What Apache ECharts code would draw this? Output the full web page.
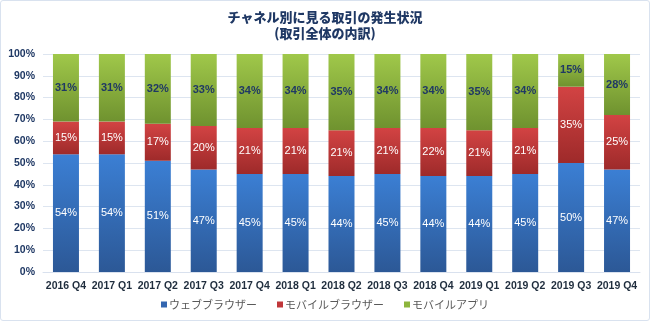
<!DOCTYPE html>
<html>
<head>
<meta charset="utf-8">
<script src="https://cdn.jsdelivr.net/npm/echarts@6/dist/echarts.min.js"></script>
<style>
html,body{margin:0;padding:0;background:#fff;}
#wrap{position:absolute;left:0;top:0;width:648px;height:319px;border:1px solid #d9e2ef;border-radius:3px;background:#fff;}
#c{width:650px;height:321px;position:absolute;left:0;top:0;}
</style>
</head>
<body>
<div id="wrap"></div>
<div id="c"></div>
<script>
const categories = ['2016 Q4','2017 Q1','2017 Q2','2017 Q3','2017 Q4','2018 Q1','2018 Q2','2018 Q3','2018 Q4','2019 Q1','2019 Q2','2019 Q3','2019 Q4'];
const webBrowser = [54,54,51,47,45,45,44,45,44,44,45,50,47];
const mobileBrowser = [15,15,17,20,21,21,21,21,22,21,21,35,25];
const mobileApp = [31,31,32,33,34,34,35,34,34,35,34,15,28];
const seriesNames = ['ウェブブラウザー','モバイルブラウザー','モバイルアプリ'];
const yTicks = [0,10,20,30,40,50,60,70,80,90,100];

function grad(top, bottom){
  return {type:'linear',x:0,y:0,x2:0,y2:1,colorStops:[{offset:0,color:top},{offset:1,color:bottom}]};
}
const jp = '"Noto Sans CJK JP", "Liberation Sans", sans-serif';
const lat = '"Liberation Sans", Arial, sans-serif';

const chart = echarts.init(document.getElementById('c'), null, {renderer:'canvas'});
const whiteLabel = {show:true, position:'inside', color:'#ffffff', fontSize:11, fontFamily:lat, formatter: p => p.value + '%'};
const appLabel = {show:true, position:'inside', color:'#1f3864', fontSize:11, fontWeight:'bold', fontFamily:lat, formatter: p => p.value + '%'};

chart.setOption({
  backgroundColor:'transparent',
  animation:false,
  title:{
    text:'チャネル別に見る取引の発生状況\n(取引全体の内訳)',
    left:'center', top:4,
    textStyle:{fontFamily:jp, fontSize:13, fontWeight:900, color:'#1f3864', lineHeight:16}
  },
  legend:{
    bottom:6, left:'center',
    itemWidth:6, itemHeight:6, itemGap:20,
    icon:'rect',
    textStyle:{fontFamily:jp, fontSize:11, color:'#595959', padding:[0,0,0,-3]},
    data:[
      {name:seriesNames[0], itemStyle:{color:'#3366b0'}},
      {name:seriesNames[1], itemStyle:{color:'#c0373a'}},
      {name:seriesNames[2], itemStyle:{color:'#8db53c'}}
    ]
  },
  grid:{left:43, right:10, top:54, bottom:49, containLabel:false},
  xAxis:{
    type:'category', data:categories,
    axisLine:{show:true, lineStyle:{color:'#d9e1ee'}},
    axisTick:{show:false},
    axisLabel:{fontFamily:lat, fontSize:10.5, fontWeight:'bold', color:'#1f2d3d', margin:9, interval:0}
  },
  yAxis:{
    type:'value', min:0, max:100, interval:10,
    axisLine:{show:false}, axisTick:{show:false},
    splitLine:{lineStyle:{color:'#dde5f0'}},
    axisLabel:{fontFamily:lat, fontSize:10.5, fontWeight:'bold', color:'#1f3864', formatter: v => v + '%', margin:8}
  },
  series:[
    {name:seriesNames[0], type:'bar', stack:'s', data:webBrowser, barWidth:26,
     itemStyle:{color:grad('#3b7fd4','#2c5896')}, label:whiteLabel},
    {name:seriesNames[1], type:'bar', stack:'s', data:mobileBrowser, barWidth:26,
     itemStyle:{color:grad('#d24343','#9e2a2a')}, label:whiteLabel},
    {name:seriesNames[2], type:'bar', stack:'s', data:mobileApp, barWidth:26,
     itemStyle:{color:grad('#a0c84a','#6f922f')}, label:appLabel}
  ]
});
</script>
</body>
</html>
